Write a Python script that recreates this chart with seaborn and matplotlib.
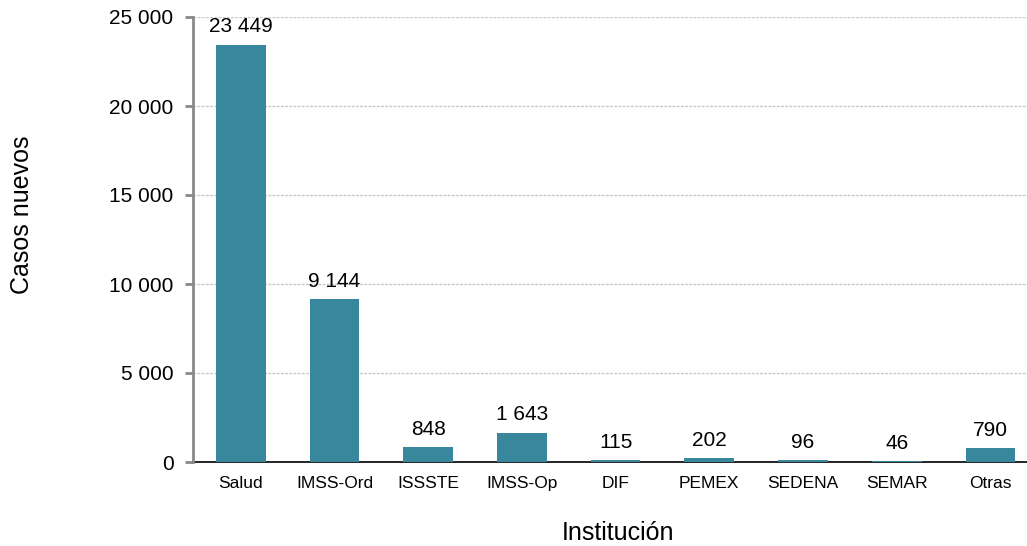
import matplotlib
matplotlib.use("Agg")
import matplotlib.pyplot as plt
import seaborn as sns
import pandas as pd
from matplotlib.ticker import FuncFormatter, MultipleLocator

categories = ["Salud", "IMSS-Ord", "ISSSTE", "IMSS-Op", "DIF", "PEMEX", "SEDENA", "SEMAR", "Otras"]
values = [23449, 9144, 848, 1643, 115, 202, 96, 46, 790]

df = pd.DataFrame({"Institución": categories, "Casos nuevos": values})

sns.set_theme(style="white")
plt.rcParams["font.family"] = ["Liberation Sans", "DejaVu Sans"]
plt.rcParams["text.color"] = "black"
plt.rcParams["axes.labelcolor"] = "black"
plt.rcParams["xtick.color"] = "black"
plt.rcParams["ytick.color"] = "black"

fig = plt.figure(figsize=(10.27, 5.46), dpi=100)
ax = fig.add_axes([193/1027, 84/546, 1 - 193/1027, (462-17)/546])

sns.barplot(data=df, x="Institución", y="Casos nuevos", color="#38879C",
            width=0.53, saturation=1, ax=ax, zorder=3, linewidth=0)

def fmt(v):
    return f"{int(v):,}".replace(",", " ")

for i, v in enumerate(values):
    ax.annotate(fmt(v), (i, v), xytext=(0, 6), textcoords="offset points",
                ha="center", va="bottom", fontsize=15, color="black")

ax.set_ylim(0, 25000)
ax.set_xlim(-0.51, 8.39)
ax.yaxis.set_major_locator(MultipleLocator(5000))
ax.yaxis.set_major_formatter(FuncFormatter(lambda v, p: fmt(v)))
ax.grid(axis="y", color="#c8c8c8", linestyle=(0, (2, 1)), linewidth=1, zorder=0)
ax.set_axisbelow(True)

for s in ["top", "right"]:
    ax.spines[s].set_visible(False)
ax.spines["left"].set_color("#8a8a8a")
ax.spines["left"].set_linewidth(2)
ax.spines["bottom"].set_color("black")
ax.spines["bottom"].set_linewidth(1.2)
ax.spines["bottom"].set_zorder(1)

ax.tick_params(axis="y", which="major", direction="out", length=6, width=2,
               color="#8a8a8a", labelcolor="black", labelsize=15, pad=8, left=True)
ax.tick_params(axis="x", length=0, labelsize=12.5, labelcolor="black", pad=10)

ax.set_ylabel("Casos nuevos", fontsize=18)
ax.set_xlabel("Institución", fontsize=18)
ax.yaxis.label.set_va("center")
ax.yaxis.set_label_coords(-0.205, 0.555)
ax.xaxis.label.set_va("center")
ax.xaxis.set_label_coords(0.51, -0.16)

fig.savefig("out.png", dpi=100)
